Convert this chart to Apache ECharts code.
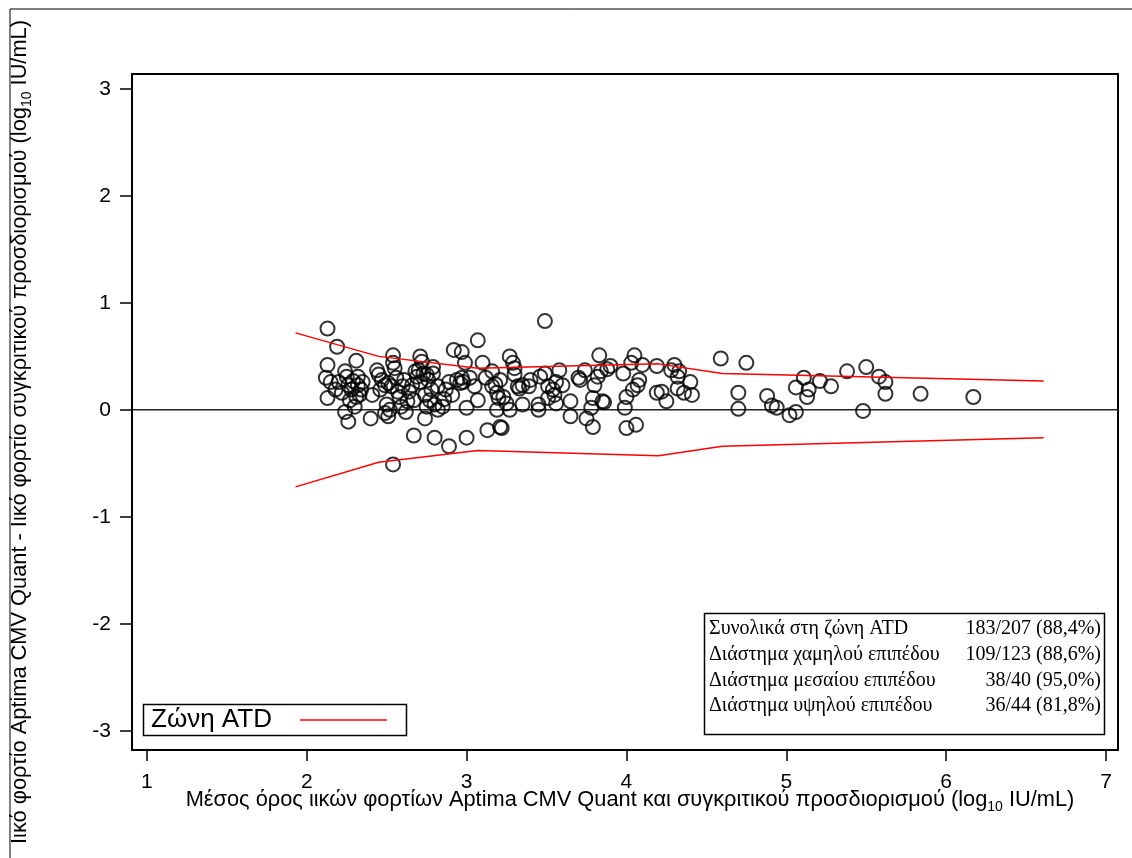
<!DOCTYPE html>
<html>
<head>
<meta charset="utf-8">
<script src="https://cdn.jsdelivr.net/npm/echarts@6/dist/echarts.min.js"></script>
<style>html,body{margin:0;padding:0;background:#fff}#c{width:1132px;height:858px}</style>
</head>
<body>
<div id="c"></div>
<script>
// Mean of the two log10 values (x) and difference (y)
const meanVals = [
 2.13,2.19,2.13,2.31,2.12,2.15,2.13,2.18,2.24,2.25,2.26,2.28,2.31,2.32,2.34,2.22,2.27,2.24,2.26,2.30,
 2.32,2.40,2.41,2.44,2.45,2.47,2.49,2.46,2.54,2.54,2.55,2.51,2.53,2.57,2.50,2.52,2.49,2.51,2.59,2.62,
 2.61,2.58,2.64,2.66,2.67,2.63,2.71,2.72,2.70,2.69,2.71,2.73,2.75,2.79,2.79,2.82,2.74,2.77,2.75,2.80,
 2.82,2.74,2.67,2.80,2.89,2.54,
 3.49,3.07,2.92,2.97,2.99,3.10,3.16,3.27,3.29,3.30,3.30,3.21,3.16,3.05,2.97,2.98,2.96,2.89,2.87,2.91,
 2.85,3.00,3.07,3.19,3.20,3.23,3.25,3.19,3.27,3.32,3.35,3.39,3.35,3.45,3.45,3.46,3.49,3.51,3.54,3.56,
 3.58,3.60,3.65,3.56,3.51,3.65,3.71,3.74,3.75,3.13,3.21,3.22,3.00,
 3.83,4.05,4.03,4.59,3.90,3.84,3.82,3.98,4.19,4.28,4.30,4.32,4.40,4.32,4.36,4.41,4.08,4.07,4.04,4.00,
 3.99,4.19,4.22,4.25,3.80,3.79,3.78,3.85,3.86,3.79,4.00,4.06,
 4.75,4.70,4.70,4.88,4.91,4.94,5.02,5.06,5.11,5.06,5.14,5.13,5.21,5.28,5.38,5.50,5.58,5.62,5.62,5.84,
 6.17,5.48,
 2.20,2.29,2.35,2.33,2.56,2.60,2.68,2.76,2.78,2.86,2.94,3.02,3.12,3.18,3.33,3.40,3.55,3.70,3.88,4.10,
 4.33
];
const diffVals = [
 0.76,0.59,0.42,0.46,0.30,0.26,0.11,0.19,0.36,0.31,0.23,0.19,0.12,0.23,0.19,0.16,0.09,-0.02,-0.11,0.03,
 0.31,-0.08,0.14,0.37,0.33,0.28,0.23,0.19,0.51,0.44,0.39,0.25,0.22,0.17,0.05,0.00,-0.03,-0.06,0.03,-0.02,
 0.28,0.12,0.17,0.23,0.09,0.08,0.50,0.45,0.37,0.31,0.26,0.34,0.33,0.40,0.34,0.22,0.14,0.09,0.03,0.05,
 0.00,-0.08,-0.24,-0.26,-0.34,-0.51,
 0.83,0.65,0.56,0.54,0.44,0.44,0.36,0.50,0.44,0.39,0.33,0.28,0.22,0.22,0.30,0.26,0.25,0.26,0.19,0.14,
 0.03,0.02,0.09,0.16,0.11,0.12,0.06,0.00,0.00,0.22,0.23,0.22,0.05,0.05,0.00,0.31,0.34,0.22,0.19,0.26,
 0.37,0.23,0.08,0.06,0.11,-0.06,0.28,0.37,-0.08,-0.19,-0.16,-0.17,-0.26,
 0.51,0.51,0.44,0.48,0.41,0.36,0.31,0.34,0.41,0.37,0.42,0.31,0.26,0.20,0.16,0.14,0.28,0.23,0.19,0.12,
 0.02,0.16,0.17,0.08,0.23,0.11,0.02,0.08,0.07,-0.16,-0.17,-0.14,
 0.44,0.16,0.01,0.13,0.04,0.02,-0.05,-0.02,0.30,0.21,0.19,0.12,0.27,0.22,0.36,0.40,0.31,0.26,0.15,0.15,
 0.12,-0.01,
 0.26,0.27,0.26,0.14,0.30,0.22,0.36,0.28,0.19,0.10,0.28,0.30,0.30,0.24,0.20,0.28,0.14,0.30,0.38,0.42,
 0.36
];
// ATD zone limits
const zoneX = [1.93, 2.45, 3.07, 4.20, 4.60, 6.61];
const zoneUpper = [0.72, 0.50, 0.39, 0.43, 0.34, 0.27];
const zoneLower = [-0.72, -0.49, -0.38, -0.43, -0.34, -0.26];
// ticks
const xTicks = [1, 2, 3, 4, 5, 6, 7];
const yTicks = [-3, -2, -1, 0, 1, 2, 3];
// summary table
const tableLabels = ['Συνολικά στη ζώνη ATD','Διάστημα χαμηλού επιπέδου','Διάστημα μεσαίου επιπέδου','Διάστημα υψηλού επιπέδου'];
const tableValues = ['183/207 (88,4%)','109/123 (88,6%)','38/40 (95,0%)','36/44 (81,8%)'];
const legendLabel = 'Ζώνη ATD';
const xTitleMain = 'Μέσος όρος ιικών φορτίων Aptima CMV Quant και συγκριτικού προσδιορισμού (log';
const yTitleMain = 'Ιικό φορτίο Aptima CMV Quant - Ιικό φορτίο συγκριτικού προσδιορισμού (log';
const titleSub = '10';
const titleEnd = ' IU/mL)';

const sans = 'Liberation Sans, Arial, sans-serif';
const serif = 'Liberation Serif, Times New Roman, serif';

const points = meanVals.map((x, i) => [x, diffVals[i]]);
const upper = zoneX.map((x, i) => [x, zoneUpper[i]]);
const lower = zoneX.map((x, i) => [x, zoneLower[i]]);

const chart = echarts.init(document.getElementById('c'), null, {renderer: 'canvas'});

const titleRich = {
  a: {fontSize: 21.8, fontFamily: sans, fill: '#000', lineHeight: 28},
  s: {fontSize: 14, fontFamily: sans, fill: '#000', lineHeight: 15, verticalAlign: 'bottom'}
};
const richText = main => '{a|' + main + '}{s|' + titleSub + '}{a|' + titleEnd + '}';

const graphics = [
  {type: 'rect', silent: true, shape: {x: 10, y: 9, width: 1300, height: 1000},
   style: {fill: 'none', stroke: '#000', lineWidth: 1}},
  {type: 'text', x: 630, y: 800, style: {text: richText(xTitleMain), rich: titleRich,
   align: 'center', verticalAlign: 'middle'}},
  {type: 'text', x: 20, y: 432, rotation: Math.PI / 2, style: {text: richText(yTitleMain), rich: titleRich,
   align: 'center', verticalAlign: 'middle'}},
  // legend
  {type: 'rect', shape: {x: 143.5, y: 704.5, width: 263, height: 31},
   style: {fill: '#fff', stroke: '#000', lineWidth: 1.5}},
  {type: 'text', x: 151, y: 720, style: {text: legendLabel, fontSize: 26, fontFamily: sans, fill: '#000',
   verticalAlign: 'middle'}},
  {type: 'line', shape: {x1: 300, y1: 720, x2: 387, y2: 720}, style: {stroke: '#ff0000', lineWidth: 1.5}},
  // table
  {type: 'rect', shape: {x: 704.5, y: 613.5, width: 400, height: 121},
   style: {fill: '#fff', stroke: '#000', lineWidth: 1.5}}
];
const rowY = [629, 655, 681, 706];
tableLabels.forEach((t, i) => {
  graphics.push({type: 'text', x: 709, y: rowY[i], style: {text: t, fontSize: 20, fontFamily: serif,
    fill: '#000', verticalAlign: 'middle'}});
  graphics.push({type: 'text', x: 1101, y: rowY[i], style: {text: tableValues[i], fontSize: 20, fontFamily: serif,
    fill: '#000', align: 'right', verticalAlign: 'middle'}});
});

chart.setOption({
  backgroundColor: '#fff',
  animation: false,
  grid: {left: 132, right: 14, top: 74, bottom: 108, show: true, borderColor: '#000', borderWidth: 2,
         backgroundColor: 'transparent'},
  xAxis: {
    type: 'value', min: 0.907, max: 7.075,
    splitLine: {show: false},
    axisLine: {show: true, onZero: false, lineStyle: {color: '#000', width: 2}},
    axisTick: {show: true, length: 11, customValues: xTicks, lineStyle: {color: '#000', width: 1.5}},
    axisLabel: {customValues: xTicks, margin: 22, fontSize: 21, fontFamily: sans, color: '#000'}
  },
  yAxis: {
    type: 'value', min: -3.18, max: 3.14,
    splitLine: {show: false},
    axisLine: {show: true, onZero: false, lineStyle: {color: '#000', width: 2}},
    axisTick: {show: true, length: 12, customValues: yTicks, lineStyle: {color: '#000', width: 1.5}},
    axisLabel: {customValues: yTicks, margin: 21, fontSize: 21, fontFamily: sans, color: '#000'}
  },
  series: [
    {type: 'line', data: [[0.907, 0], [7.075, 0]], symbol: 'none', silent: true,
     lineStyle: {color: '#222', width: 1.5}, z: 1},
    {type: 'scatter', data: points, symbol: 'circle', symbolSize: 14,
     itemStyle: {color: 'rgba(0,0,0,0)', borderColor: '#000', borderWidth: 2}, z: 2},
    {type: 'line', data: upper, symbol: 'none', lineStyle: {color: '#ff0000', width: 1.5}, z: 3},
    {type: 'line', data: lower, symbol: 'none', lineStyle: {color: '#ff0000', width: 1.5}, z: 3}
  ],
  graphic: graphics
});
</script>
</body>
</html>
